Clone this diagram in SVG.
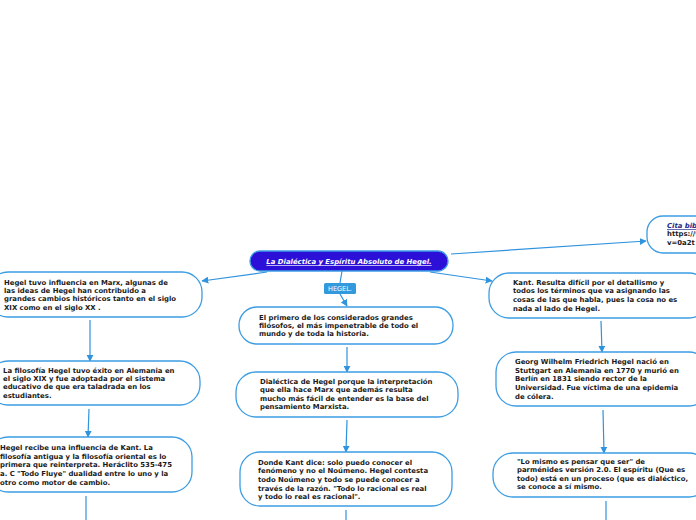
<svg xmlns="http://www.w3.org/2000/svg" width="696" height="520" viewBox="0 0 696 520">
<defs>
<marker id="ah" viewBox="0 0 10 10" refX="9" refY="5" markerWidth="7" markerHeight="7" orient="auto" markerUnits="userSpaceOnUse"><path d="M0,0 L10,5 L0,10 z" fill="#2f93dd"/></marker>
<style>
.box{fill:#fff;stroke:#3d9de3;stroke-width:1.3}
.t{font-family:"DejaVu Sans",Verdana,sans-serif;font-weight:bold;font-size:6.9px;fill:#1a1a1a}
.c{fill:none;stroke:#2f93dd;stroke-width:1.2}
</style>
</defs>
<rect width="696" height="520" fill="#fff"/>
<g id="connectors">
<path class="c" d="M267,272 L202,281" marker-end="url(#ah)"/>
<path class="c" d="M430,272 L492,281" marker-end="url(#ah)"/>
<path class="c" d="M451,254 L646,241" marker-end="url(#ah)"/>
<path class="c" d="M342,271 L340,283"/>
<path class="c" d="M340,294 L347,306" marker-end="url(#ah)"/>
<path class="c" d="M347,347 L347,372" marker-end="url(#ah)"/>
<path class="c" d="M347,420 L346,452" marker-end="url(#ah)"/>
<path class="c" d="M346,510 L346,520"/>
<path class="c" d="M90,320 L90,361" marker-end="url(#ah)"/>
<path class="c" d="M89,409 L88,437" marker-end="url(#ah)"/>
<path class="c" d="M86,496 L86,520"/>
<path class="c" d="M601,321 L602,352" marker-end="url(#ah)"/>
<path class="c" d="M603,410 L604,453" marker-end="url(#ah)"/>
<path class="c" d="M606,501 L606,520"/>
</g>
<g id="central">
<rect x="250" y="251" width="198" height="20" rx="10" fill="#2c10d8" stroke="#3d9de3" stroke-width="1.3"/>
<text x="349" y="264" text-anchor="middle" class="t" style="fill:#fff;font-style:italic;text-decoration:underline">La Dialéctica y Espíritu Absoluto de Hegel.</text>
</g>
<g id="hegel-label">
<rect x="324" y="283" width="32" height="11" rx="1.5" fill="#3399dd"/>
<text x="340" y="291" text-anchor="middle" style="font-family:'DejaVu Sans',sans-serif;font-size:6.5px;fill:#fff">HEGEL.</text>
</g>
<g id="cita">
<rect x="647" y="216" width="70" height="37" rx="16" class="box"/>
<text class="t" x="667" y="228"><tspan style="font-style:italic;text-decoration:underline;fill:#1c2a8a">Cita bibliográfica</tspan><tspan x="667" dy="8.4">https://www.youtube.com/watch?</tspan><tspan x="667" dy="8.4">v=0a2t</tspan></text>
</g>
<g id="left1">
<rect x="-12" y="272" width="214" height="45" rx="20" class="box"/>
<text class="t" x="4" y="284.5"><tspan>Hegel tuvo influencia en Marx, algunas de</tspan><tspan x="4" dy="8.4">las ideas de Hegel han contribuido a</tspan><tspan x="4" dy="8.4">grandes cambios históricos tanto en el siglo</tspan><tspan x="4" dy="8.4">XIX como en el siglo XX .</tspan></text>
</g>
<g id="left2">
<rect x="-12" y="361" width="212" height="44" rx="20" class="box"/>
<text class="t" x="3" y="372.5"><tspan>La filosofía Hegel tuvo éxito en Alemania en</tspan><tspan x="3" dy="8.4">el siglo XIX y fue adoptada por el sistema</tspan><tspan x="3" dy="8.4">educativo de que era taladrada en los</tspan><tspan x="3" dy="8.4">estudiantes.</tspan></text>
</g>
<g id="left3">
<rect x="-12" y="437" width="204" height="55" rx="20" class="box"/>
<text class="t" x="0" y="450"><tspan>Hegel recibe una influencia de Kant. La</tspan><tspan x="0" dy="8.7">filosofía antigua y la filosofía oriental es lo</tspan><tspan x="0" dy="8.7">primera que reinterpreta. Heráclito 535-475</tspan><tspan x="0" dy="8.7">a. C "Todo Fluye" dualidad entre lo uno y la</tspan><tspan x="0" dy="8.7">otro como motor de cambio.</tspan></text>
</g>
<g id="center1">
<rect x="239" y="307" width="214" height="37" rx="18" class="box"/>
<text class="t" x="259" y="319.5"><tspan>El primero de los considerados grandes</tspan><tspan x="259" dy="8.4">filósofos, el más impenetrable de todo el</tspan><tspan x="259" dy="8.4">mundo y de toda la historia.</tspan></text>
</g>
<g id="center2">
<rect x="236" y="372" width="222" height="45" rx="20" class="box"/>
<text class="t" x="260" y="384"><tspan>Dialéctica de Hegel porque la interpretación</tspan><tspan x="260" dy="8.4">que ella hace Marx que además resulta</tspan><tspan x="260" dy="8.4">mucho más fácil de entender es la base del</tspan><tspan x="260" dy="8.4">pensamiento Marxista.</tspan></text>
</g>
<g id="center3">
<rect x="240" y="452" width="212" height="54" rx="20" class="box"/>
<text class="t" x="258" y="464.5"><tspan>Donde Kant dice: solo puedo conocer el</tspan><tspan x="258" dy="8.7">fenómeno y no el Noúmeno. Hegel contesta</tspan><tspan x="258" dy="8.7">todo Noúmeno y todo se puede conocer a</tspan><tspan x="258" dy="8.7">través de la razón. "Todo lo racional es real</tspan><tspan x="258" dy="8.7">y todo lo real es racional".</tspan></text>
</g>
<g id="right1">
<rect x="489" y="273" width="220" height="45" rx="20" class="box"/>
<text class="t" x="513" y="285"><tspan>Kant. Resulta difícil por el detallismo y</tspan><tspan x="513" dy="8.4">todos los términos que va asignando las</tspan><tspan x="513" dy="8.4">cosas de las que habla, pues la cosa no es</tspan><tspan x="513" dy="8.7">nada al lado de Hegel.</tspan></text>
</g>
<g id="right2">
<rect x="496" y="352" width="213" height="54" rx="20" class="box"/>
<text class="t" x="515" y="364"><tspan>Georg Wilhelm Friedrich Hegel nació en</tspan><tspan x="515" dy="8.7">Stuttgart en Alemania en 1770 y murió en</tspan><tspan x="515" dy="8.7">Berlín en 1831 siendo rector de la</tspan><tspan x="515" dy="8.7">Universidad. Fue víctima de una epidemia</tspan><tspan x="515" dy="8.7">de cólera.</tspan></text>
</g>
<g id="right3">
<rect x="493" y="453" width="216" height="44" rx="20" class="box"/>
<text class="t" x="517" y="464"><tspan>"Lo mismo es pensar que ser" de</tspan><tspan x="517" dy="8.4">parménides versión 2.0. El espíritu (Que es</tspan><tspan x="517" dy="8.4">todo) está en un proceso (que es dialéctico,</tspan><tspan x="517" dy="8.4">se conoce a sí mismo.</tspan></text>
</g>
</svg>
